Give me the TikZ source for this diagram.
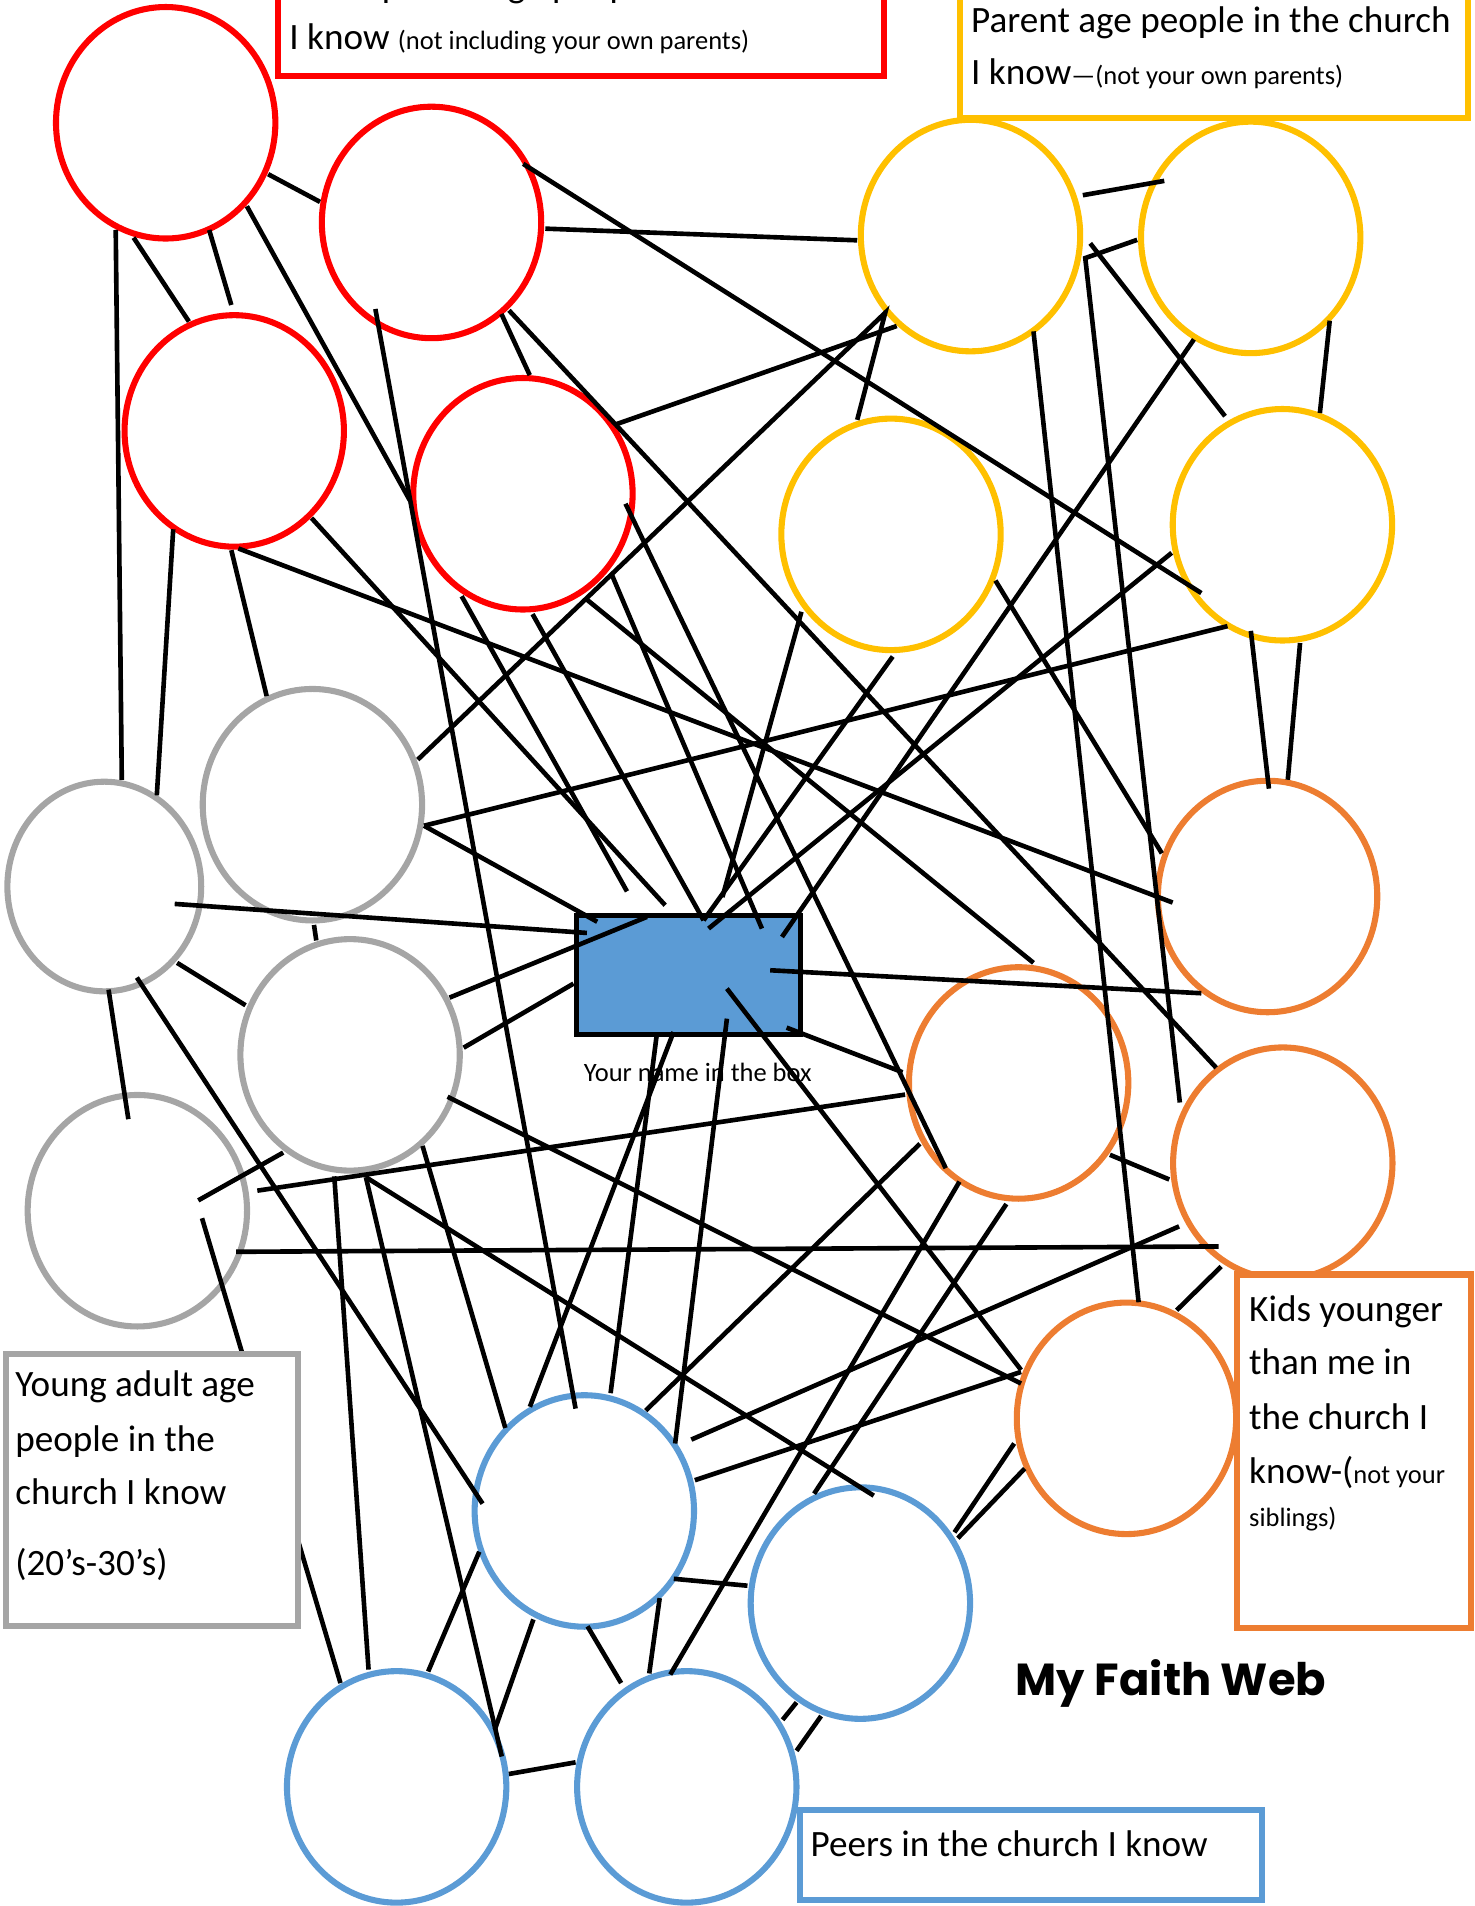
\documentclass[tikz,border=0pt]{standalone}
\usepackage{fontspec}
\setmainfont{Carlito}
\newfontfamily\webfont{Poppins}
\usetikzlibrary{shapes.geometric}

\definecolor{webred}{HTML}{FF0000}
\definecolor{webyellow}{HTML}{FFC000}
\definecolor{webgray}{HTML}{A5A5A5}
\definecolor{weborange}{HTML}{ED7D31}
\definecolor{webblue}{HTML}{5B9BD5}

\newcommand{\smalltxt}[1]{{\fontsize{12.4}{14}\selectfont #1}}

\tikzset{
  ring/.style={draw=#1, ellipse, line width=0.1cm, inner sep=0pt,
    minimum width=3.61cm, minimum height=3.81cm},
  smallring/.style={ring=#1, minimum width=3.19cm, minimum height=3.45cm},
  link/.style={line width=0.076cm},
  frame/.style={draw=#1, line width=0.1cm},
  bigtxt/.style={anchor=base west, inner sep=0pt, font=\fontsize{17.4}{20}\selectfont},
}

\begin{document}
\begin{tikzpicture}[x=0.02cm,y=-0.02cm]
\useasboundingbox (0,0) rectangle (1213,1568);
\clip (0,0) rectangle (1213,1568);

% label boxes at the top
\draw[frame=webred] (229,-60) rectangle (727.5,62.5);
\node[bigtxt] (redtop) at (237.7,-2.2) {Grandparent age people in the church};
\node[bigtxt] (redtxt) at (237.7,41.1) {I know \smalltxt{(not including your own parents)}};
\draw[frame=webyellow] (789.5,-60) rectangle (1208,97.4);
\node[bigtxt] (yeltop) at (798.6,26.5) {Parent age people in the church};
\node[bigtxt] (yeltxt) at (798.6,69.8) {I know\smalltxt{---(not your own parents)}};

% the circles
\node[ring=webred] (r1) at (136.3,101) {};
\node[ring=webred] (r2) at (355,183) {};
\node[ring=webred] (r3) at (192.7,354.5) {};
\node[ring=webred] (r4) at (430.2,406.2) {};
\node[ring=webyellow] (y1) at (798.4,193.8) {};
\node[ring=webyellow] (y2) at (1028.9,195.3) {};
\node[ring=webyellow] (y3) at (733,439.6) {};
\node[ring=webyellow] (y4) at (1055,431.7) {};
\node[smallring=webgray] (g1) at (85.8,729.3) {};
\node[ring=webgray] (g2) at (257,662) {};
\node[ring=webgray] (g3) at (288,867.8) {};
\node[ring=webgray] (g4) at (113,996) {};
\node[ring=weborange] (o1) at (1042.8,737.5) {};
\node[ring=weborange] (o2) at (838,890.9) {};
\node[ring=weborange] (o3) at (1055.3,956.9) {};
\node[ring=weborange] (o4) at (926.7,1166.8) {};
\node[ring=webblue] (b1) at (480.7,1243) {};
\node[ring=webblue] (b2) at (707.8,1318.8) {};
\node[ring=webblue] (b3) at (326.3,1470) {};
\node[ring=webblue] (b4) at (565,1470) {};

% me in the middle
\node[draw, line width=0.08cm, fill=webblue, minimum width=3.69cm, minimum height=1.96cm,
  inner sep=0pt] (me) at (566.6,802) {};
\node[anchor=base, inner sep=0pt, font=\fontsize{12.4}{14}\selectfont] (mename) at (574,890)
  {Your name in the box};

% the web
\draw[link] (220.6,143.3) -- (263.3,166.1);
\draw[link] (109.9,195.5) -- (155.4,264.5);
\draw[link] (172.1,189.2) -- (190.3,250.9);
\draw[link] (95.2,189.2) -- (100.2,641.5);
\draw[link] (203.1,169.7) -- (337.1,411.5);
\draw[link] (308.8,254.2) -- (473.5,1158.8);
\draw[link] (448.6,188.1) -- (705.2,197.7);
\draw[link] (430.4,134.8) -- (988.3,487.9);
\draw[link] (412.5,258.3) -- (435.8,308.6);
\draw[link] (418.7,255.3) -- (1000.5,878.4);
\draw[link] (506.9,349) -- (737.7,268.2);
\draw[link] (514.6,414.4) -- (778,961);
\draw[link] (142.5,435.4) -- (129,654.3);
\draw[link] (190.3,452.6) -- (219.4,572.7);
\draw[link] (196.1,451.2) -- (964.7,742.5);
\draw[link] (256.3,426.2) -- (547.2,744.7);
\draw[link] (379.8,490.5) -- (515.8,733.3);
\draw[link] (438.1,505.2) -- (578.8,757.1);
\draw[link] (503,472) -- (626.8,763.9);
\draw[link] (343.7,624.9) -- (728.3,257.2) -- (705.2,345.4);
\draw[link] (481.6,492.3) -- (850.2,792.1);
\draw[link] (890.8,160.6) -- (957.8,148.8);
\draw[link] (935.5,197.3) -- (892.8,212.3) -- (970.6,907);
\draw[link] (850.2,272.6) -- (936.7,1071.3);
\draw[link] (896.9,200.2) -- (1007.8,342.4);
\draw[link] (1093.9,263.8) -- (1085.8,339.8);
\draw[link] (982.2,279.2) -- (643.3,770.8);
\draw[link] (963.9,454.8) -- (582.9,763.9);
\draw[link] (1009.8,515.1) -- (348.8,679.3);
\draw[link] (1029,519) -- (1043.9,648.8);
\draw[link] (1069.5,529) -- (1059.4,641.5);
\draw[link] (818.9,477.6) -- (955.8,702);
\draw[link] (734.4,540.1) -- (578.8,757.1);
\draw[link] (659.3,503.3) -- (594.3,738);
\draw[link] (633.6,798.2) -- (988.3,817.1);
\draw[link] (598,813.3) -- (840,1127);
\draw[link] (647.1,845.4) -- (742.5,882.1);
\draw[link] (598,838) -- (555.4,1187.5);
\draw[link] (542.7,1314.7) -- (534.1,1376.7);
\draw[link] (554.1,849) -- (435.9,1157.3);
\draw[link] (394.3,1276.5) -- (352.2,1375.1);
\draw[link] (540.4,850.3) -- (502.3,1146.1);
\draw[link] (471.8,809.2) -- (381.4,861.9);
\draw[link] (532.2,754.3) -- (369.8,820.7);
\draw[link] (143.7,743.6) -- (482.8,767.5);
\draw[link] (348.8,679.3) -- (491.3,758.3);
\draw[link] (258.3,760.9) -- (260.2,773.7);
\draw[link] (145.7,792.1) -- (202,827);
\draw[link] (89.3,814.1) -- (105.6,920.7);
\draw[link] (112.6,804.2) -- (397,1237);
\draw[link] (163.1,987.5) -- (233,948.2);
\draw[link] (211.7,979.5) -- (744.6,900.5);
\draw[link] (166.2,1002.2) -- (280.1,1384.6);
\draw[link] (194.2,1029.8) -- (1002.5,1025.4);
\draw[link] (275,967.7) -- (303.2,1373.5);
\draw[link] (301,968.4) -- (412.8,1445);
\draw[link] (301,968.4) -- (718.8,1230.4);
\draw[link] (347.6,942.7) -- (415.7,1174.7);
\draw[link] (368.2,902.3) -- (840,1138.2);
\draw[link] (756.8,940.9) -- (531.2,1160.4);
\draw[link] (789.3,972.1) -- (551.4,1377.6);
\draw[link] (827.9,990.5) -- (669.7,1228.8);
\draw[link] (970,1008.9) -- (568.7,1184.3);
\draw[link] (571.6,1217.7) -- (840,1128.6);
\draw[link] (834.3,1187.5) -- (785.2,1260.6);
\draw[link] (675.5,1411.7) -- (655.3,1440.3);
\draw[link] (843,1208.1) -- (788,1265.4);
\draw[link] (655.3,1400.5) -- (643.8,1414.8);
\draw[link] (968,1077.9) -- (1004.6,1041.9);
\draw[link] (913.1,950) -- (961.9,970.3);
\draw[link] (418.6,1459.4) -- (473.5,1449.8);
\draw[link] (554.3,1298.8) -- (614.9,1304.5);
\draw[link] (483.3,1337.9) -- (511,1384.6);
\draw[link] (438.8,1332.2) -- (407.1,1422.8);

% label boxes below
\draw[frame=webgray, fill=white] (4.7,1113.5) rectangle (245.5,1337.7);
\node[bigtxt] (graya) at (12.3,1149) {Young adult age};
\node[bigtxt] (grayb) at (12.3,1194) {people in the};
\node[bigtxt] (grayc) at (12.3,1238) {church I know};
\node[bigtxt] (grayd) at (12.3,1296) {(20’s-30’s)};

\draw[frame=weborange, fill=white] (1017.4,1048.5) rectangle (1210,1339.6);
\node[bigtxt] (kida) at (1027.3,1087) {Kids younger};
\node[bigtxt] (kidb) at (1027.3,1131) {than me in};
\node[bigtxt] (kidc) at (1027.3,1176) {the church I};
\node[bigtxt] (kidd) at (1027.3,1220) {know-(\smalltxt{not your}};
\node[anchor=base west, inner sep=0pt, font=\fontsize{12.4}{14}\selectfont] (kide)
  at (1027.3,1256) {siblings)};

\draw[frame=webblue] (658.5,1489) rectangle (1038,1563);
\node[bigtxt] (peers) at (666.6,1527.3) {Peers in the church I know};

\node[anchor=base west, inner sep=0pt, font=\webfont\bfseries\fontsize{21}{25}\selectfont]
  (title) at (835.3,1394.8) {My Faith Web};
\end{tikzpicture}
\end{document}
